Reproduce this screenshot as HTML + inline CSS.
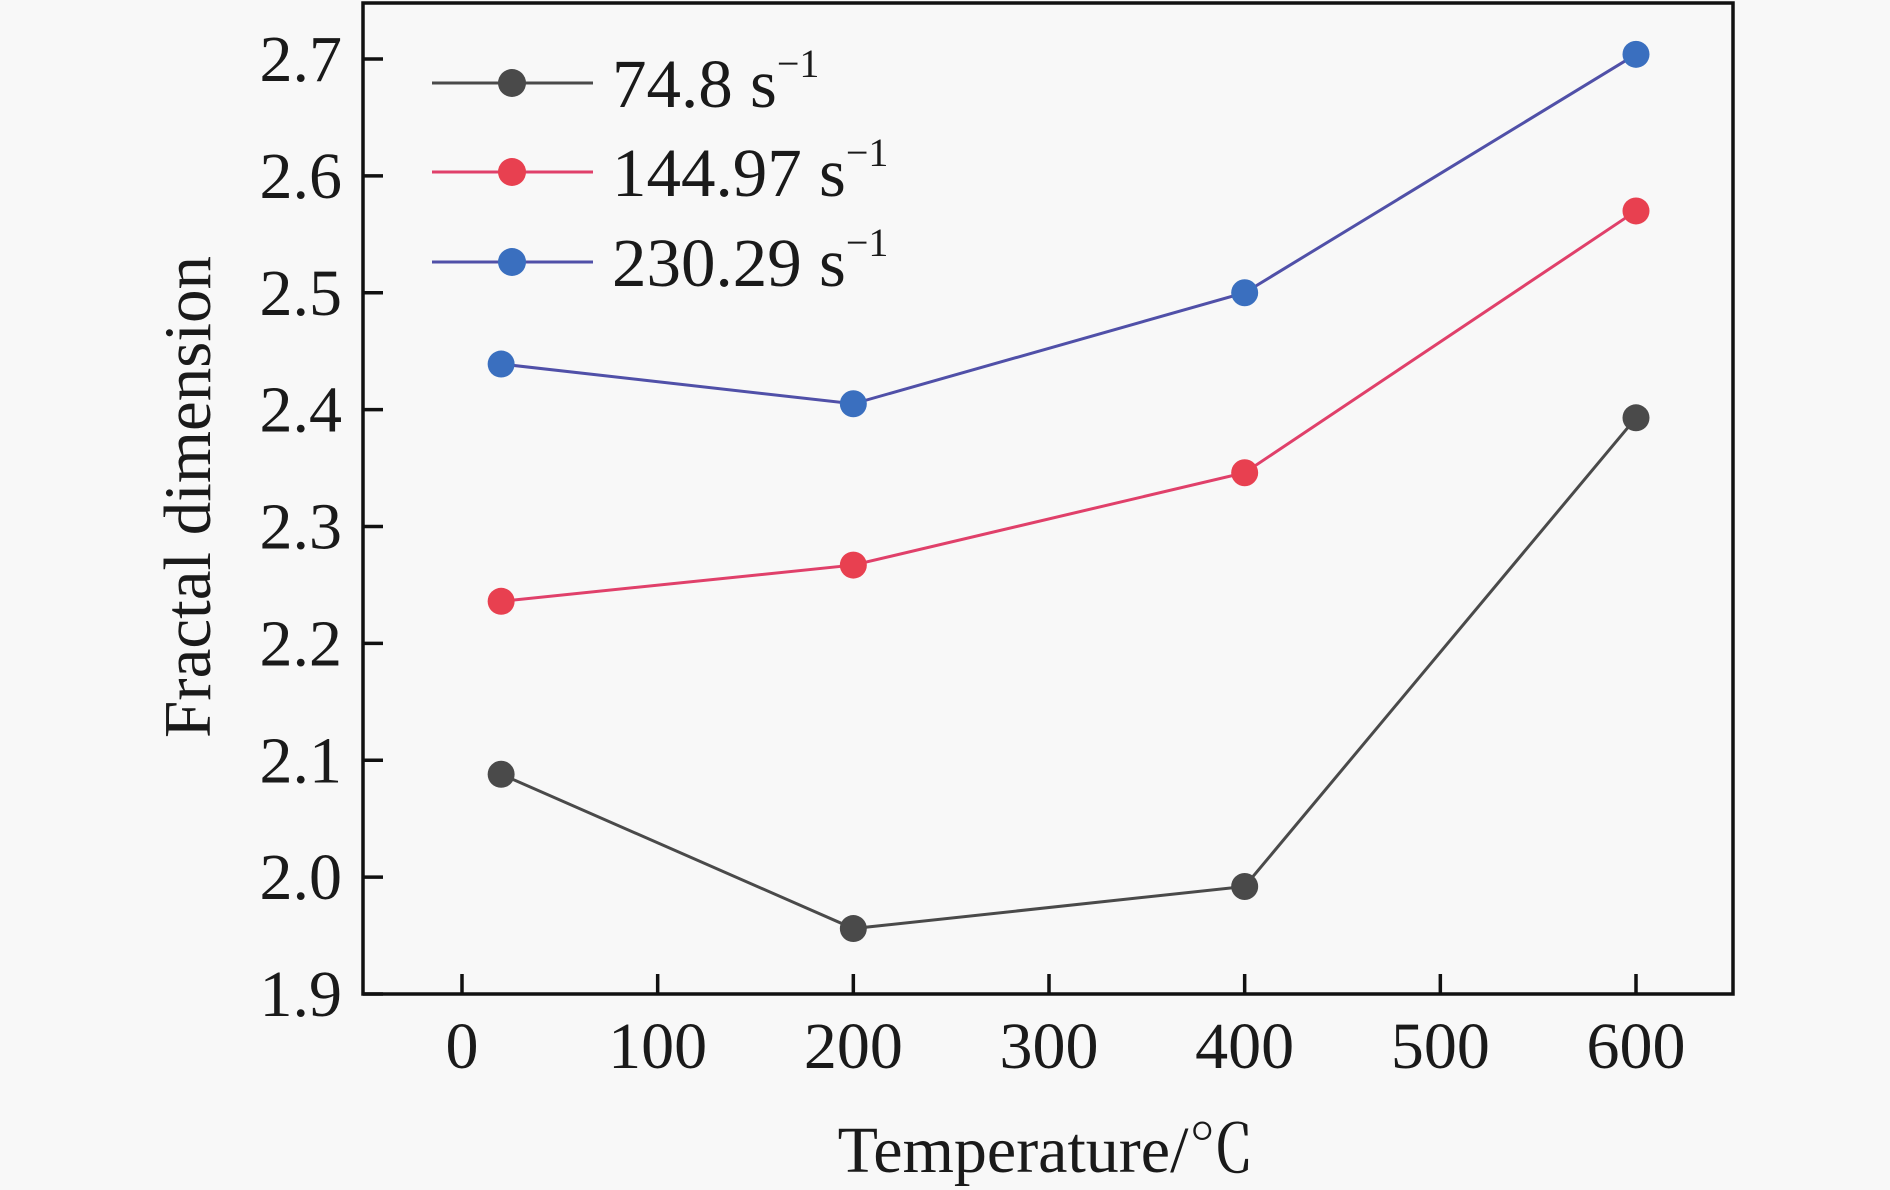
<!DOCTYPE html>
<html><head><meta charset="utf-8"><style>
html,body{margin:0;padding:0;background:#f8f8f8;}
svg{display:block;font-family:"Liberation Serif","Noto Serif CJK SC",serif;}
</style></head><body>
<svg id="chart" width="1890" height="1190" viewBox="0 0 1890 1190">
<rect x="0" y="0" width="1890" height="1190" fill="#f8f8f8"/>
<g id="axes"></g>
<g id="series"></g>
<g id="legend"></g>
<text x="1046" y="1172" font-size="66" text-anchor="middle" fill="#1a1a1a">Temperature/℃</text>
<text transform="translate(210,497) rotate(-90)" font-size="67" text-anchor="middle" fill="#1a1a1a">Fractal dimension</text>
</svg>
<script>
const temps = [20, 200, 400, 600];
const seriesNames = ["74.8 s", "144.97 s", "230.29 s"];
const series1 = [2.088, 1.956, 1.992, 2.393];
const series2 = [2.236, 2.267, 2.346, 2.570];
const series3 = [2.439, 2.405, 2.500, 2.704];
const xTicks = [0, 100, 200, 300, 400, 500, 600];
const yTicks = [1.9, 2.0, 2.1, 2.2, 2.3, 2.4, 2.5, 2.6, 2.7];

const NS = "http://www.w3.org/2000/svg";
const L = 363, R = 1733, T = 3, B = 994;
function xs(v){ return 462 + (v - 0) * (1636 - 462) / 600; }
function ys(v){ return 994 - (v - 1.9) * (994 - 59) / 0.8; }
function mk(tag, attrs, parent){ const e = document.createElementNS(NS, tag); for (const k in attrs) e.setAttribute(k, attrs[k]); parent.appendChild(e); return e; }

const axes = document.getElementById('axes');
const frame = mk('rect', {x:L, y:T, width:R-L, height:B-T, fill:'none', stroke:'#111', 'stroke-width':3.5}, axes);


xTicks.forEach(v => {
  const t = mk('line', {x1:xs(v), x2:xs(v), y1:B, y2:B-20, stroke:'#111', 'stroke-width':3.5}, axes);
  
  
  const lb = mk('text', {x:xs(v), y:1068, 'font-size':66, 'text-anchor':'middle', fill:'#1a1a1a'}, axes);
  lb.textContent = v;
  
  
});
yTicks.forEach(v => {
  const t = mk('line', {x1:L, x2:L+20, y1:ys(v), y2:ys(v), stroke:'#111', 'stroke-width':3.5}, axes);
  
  
  const lb = mk('text', {x:342, y:ys(v)+22, 'font-size':66, 'text-anchor':'end', fill:'#1a1a1a'}, axes);
  lb.textContent = v.toFixed(1);
  
  
});

const styles = [
  {line:'#4a4a4a', fill:'#4a4a4a'},
  {line:'#e0406a', fill:'#e84050'},
  {line:'#5050a8', fill:'#3a6fbf'}
];
const all = [series1, series2, series3];
const sg = document.getElementById('series');
all.forEach((vals, i) => {
  const pts = vals.map((v, j) => xs(temps[j]) + ',' + ys(v)).join(' ');
  const pl = mk('polyline', {points:pts, fill:'none', stroke:styles[i].line, 'stroke-width':3}, sg);
  
  
  vals.forEach((v, j) => {
    const c = mk('circle', {cx:xs(temps[j]), cy:ys(v), r:13.5, fill:styles[i].fill}, sg);
    
    
  });
});

const lg = document.getElementById('legend');
const legY = [83, 172, 262];
seriesNames.forEach((n, i) => {
  const ln = mk('line', {x1:432, x2:593, y1:legY[i], y2:legY[i], stroke:styles[i].line, 'stroke-width':3}, lg);
  
  
  const c = mk('circle', {cx:512, cy:legY[i], r:14, fill:styles[i].fill}, lg);
  
  
  const tx = mk('text', {x:612, y:legY[i]+24, 'font-size':69, fill:'#1a1a1a'}, lg);
  tx.textContent = n;
  const sup = document.createElementNS(NS, 'tspan');
  sup.setAttribute('dy', '-30');
  sup.setAttribute('font-size', '40');
  sup.textContent = '\u22121';
  tx.appendChild(sup);
  
  
});
</script>
</body></html>
